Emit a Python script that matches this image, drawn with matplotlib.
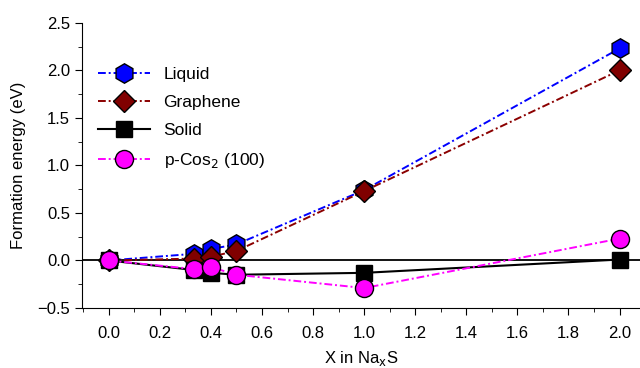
import matplotlib.pyplot as plt
from matplotlib.ticker import MultipleLocator

plt.rcParams['font.family'] = ['Liberation Sans', 'DejaVu Sans']

x = [0.0, 0.333, 0.4, 0.5, 1.0, 2.0]
liquid = [0.0, 0.07, 0.12, 0.17, 0.74, 2.23]
graphene = [0.0, 0.02, 0.04, 0.10, 0.73, 2.0]
solid = [0.0, -0.10, -0.13, -0.15, -0.13, 0.01]
pcos2 = [0.0, -0.09, -0.07, -0.15, -0.29, 0.23]

dashdot = (0, (4, 1.5, 1, 1.5))

fig = plt.figure(figsize=(6.4, 3.68), dpi=100)
ax = fig.add_axes([0.128, 0.163, 0.872, 0.775])

ax.axhline(0, color='black', lw=1.3, zorder=1)
ax.plot(x, liquid, color='blue', ls=dashdot, lw=1.4, marker='h', ms=14,
        mfc='blue', mec='black', mew=1.0, label='Liquid', zorder=3)
ax.plot(x, graphene, color='#8b0000', ls=dashdot, lw=1.4, marker='D', ms=11,
        mfc='#800000', mec='black', mew=1.0, label='Graphene', zorder=4)
ax.plot(x, solid, color='black', ls='-', lw=1.5, marker='s', ms=11,
        mfc='black', mec='black', label='Solid', zorder=5)
ax.plot(x, pcos2, color='magenta', ls=dashdot, lw=1.4, marker='o', ms=13,
        mfc='magenta', mec='black', mew=1.0, label='p-Cos$_2$ (100)', zorder=6)

ax.set_xlim(-0.105, 2.08)
ax.set_ylim(-0.5, 2.5)
ax.xaxis.set_major_locator(MultipleLocator(0.2))
ax.xaxis.set_minor_locator(MultipleLocator(0.1))
ax.yaxis.set_major_locator(MultipleLocator(0.5))
ax.yaxis.set_minor_locator(MultipleLocator(0.25))
ax.xaxis.set_major_formatter(plt.FuncFormatter(lambda v, p: f'{v:.1f}'))
ax.yaxis.set_major_formatter(plt.FuncFormatter(lambda v, p: f'{v:.1f}'.replace('-', '\u2212')))
ax.tick_params(which='major', direction='out', length=5, labelsize=12)
ax.tick_params(axis='x', which='major', pad=8)
ax.tick_params(which='minor', direction='out', length=3)
ax.spines['top'].set_visible(False)
ax.spines['right'].set_visible(False)

ax.set_xlabel('X in Na$_\\mathrm{x}$S', fontsize=12, labelpad=6)
ax.set_ylabel('Formation energy (eV)', fontsize=12, labelpad=8)

ax.legend(loc='upper left', bbox_to_anchor=(0.0, 0.90), frameon=False,
          fontsize=12.5, handlelength=3, labelspacing=0.75)

fig.savefig('out.png', dpi=100)
